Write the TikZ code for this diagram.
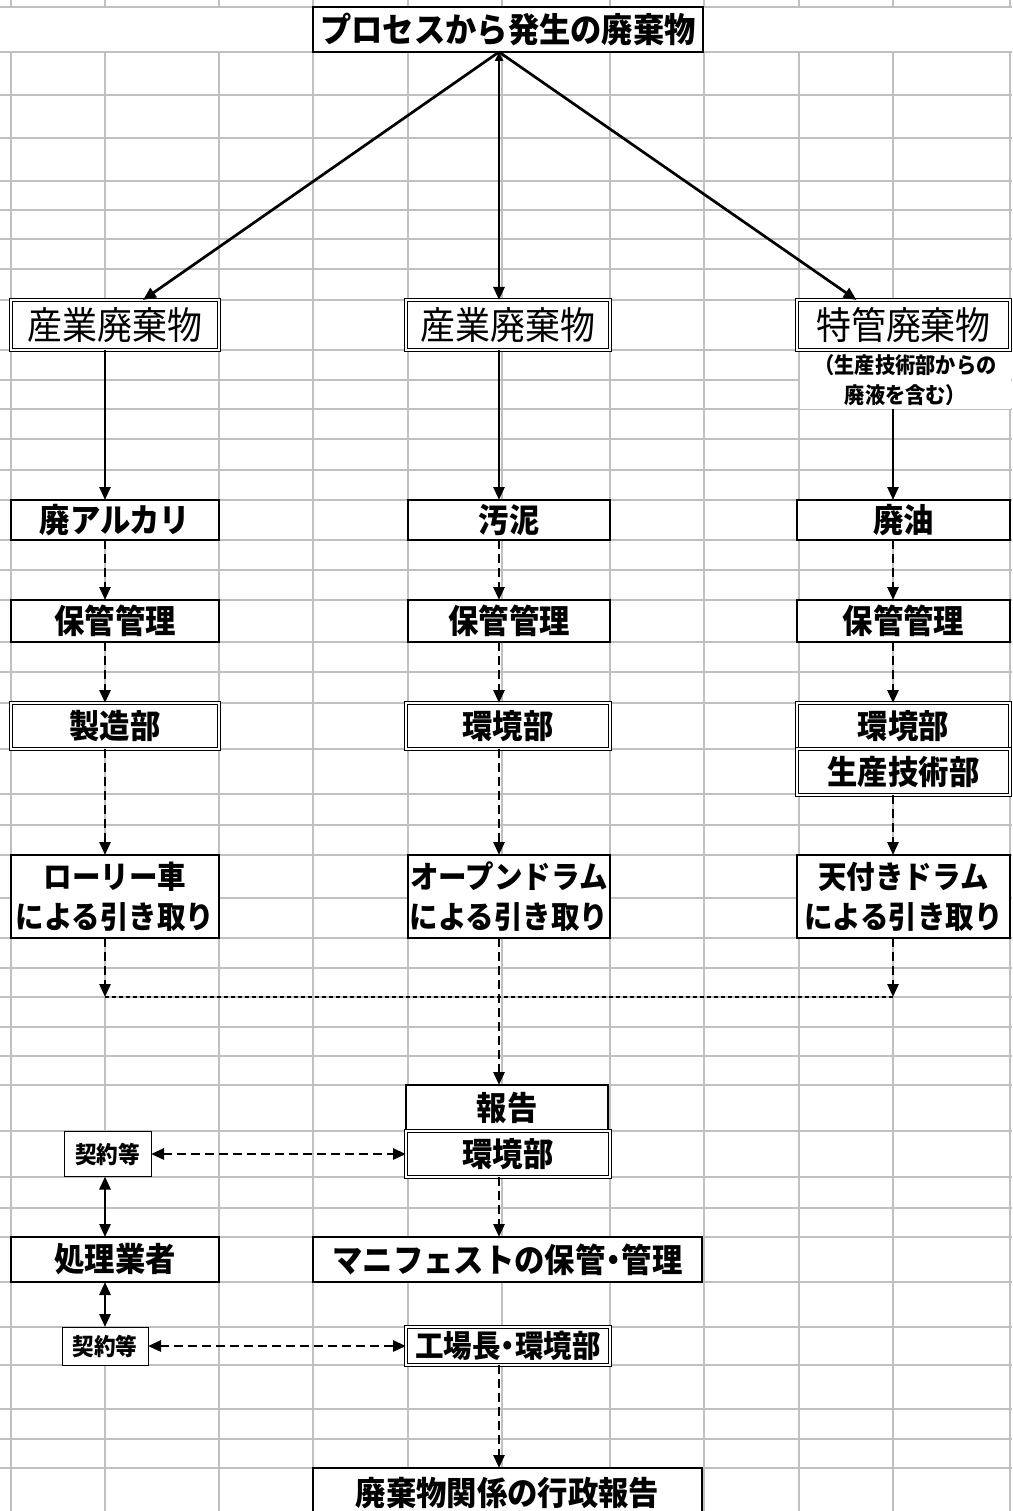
\documentclass[tikz,border=0pt]{standalone}
\usepackage{fontspec}
\setmainfont{Noto Sans CJK JP}[FakeStretch=0.92]
\usetikzlibrary{
arrows.meta,
backgrounds
}
\tikzset{
  every node/.style = {
    inner sep = 0pt,
    outer sep = 0pt
  }
}
\definecolor{gridgray}{RGB}{192,192,192}
\newcommand{\middot}{\kern-7pt・\kern-7pt}

\begin{document}
\begin{tikzpicture}[
        x = 1pt,
        y = -1pt,
        >={Triangle[length=13pt,width=11pt]},
        box/.style={
          draw,
          fill = white,
          line width = 2pt,
          align = center,
          font = \bfseries\fontsize{33}{38}\selectfont,
        },
        bold box/.style={
          box,
          line width = 2.8pt,
        },
        double box/.style={
          box,
          line width = 1.4pt,
          double = white,
          double distance = 1.5pt,
        },
        kind/.style={
          font = \fontsize{38}{42}\selectfont,
        },
        pick/.style={
          font = \bfseries\fontsize{31}{40}\selectfont,
        },
        small/.style={
          font = \bfseries\fontsize{22}{30}\selectfont,
        },
        flow/.style={
          line width = 2.7pt,
          ->,
        },
        dash flow/.style={
          flow,
          dash pattern = on 9pt off 5pt,
        },
        dot line/.style={
          line width = 2.7pt,
          dash pattern = on 4pt off 3pt,
        },
        gridline/.style={
          draw = gridgray,
          line width = 1.4pt,
        },
        ]
        \useasboundingbox (0,0) rectangle (1012,1511);
        \fill [white] (0,0) rectangle (1012,1511);
        \foreach \gy in {7,52,95,138,181,210,239,269,300,350,380,409,439,470,500,540,570,600,642,672,703,749,794,825,855,898,938,968,997,1027,1056,1085,1131,1177,1208,1237,1282,1327,1365,1409,1439,1468}
          \draw [gridline] (0,\gy) -- (1012,\gy);
        \foreach \gx in {11,105,219,313,408,502,610,704,799,893,1010}
          \draw [gridline] (\gx,0) -- (\gx,1511);
        \fill [white] (0,8) rectangle (1012,51);

        \coordinate (axisL) at (105,0);
        \coordinate (axisM) at (499,0);
        \coordinate (axisR) at (893,0);

        \node [bold box, font=\bfseries\fontsize{34}{38}\selectfont, minimum width=390, minimum height=45] (source) at (508,29.5) {プロセスから発生の廃棄物};

        \node [double box, kind, minimum width=208, minimum height=50] (wasteL) at (115,325) {産業廃棄物};
        \node [double box, kind, minimum width=204, minimum height=50] (wasteM) at (508,325) {産業廃棄物};
        \node [double box, kind, minimum width=213, minimum height=50] (wasteR) at (903.5,325) {特管廃棄物};
        \node [small, fill=white, align=center, minimum width=211, minimum height=57] (noteR) at (905.5,380) {（生産技術部からの\\廃液を含む）};

        \node [box, minimum width=208, minimum height=40] (alkali) at (115,520) {廃アルカリ};
        \node [box, minimum width=202, minimum height=40] (sludge) at (509,520) {汚泥};
        \node [box, minimum width=213, minimum height=40] (oil) at (903.5,520) {廃油};

        \node [box, minimum width=208, minimum height=42] (storeL) at (115,621) {保管管理};
        \node [box, minimum width=202, minimum height=42] (storeM) at (509,621) {保管管理};
        \node [box, minimum width=213, minimum height=42] (storeR) at (903.5,621) {保管管理};

        \node [double box, minimum width=208, minimum height=46] (deptL) at (115,726) {製造部};
        \node [double box, minimum width=204, minimum height=46] (deptM) at (508,726) {環境部};
        \node [double box, minimum width=213, minimum height=46] (deptRa) at (903.5,726) {環境部};
        \node [double box, minimum width=213, minimum height=46] (deptRb) at (903.5,772) {生産技術部};

        \node [box, pick, minimum width=208, minimum height=83] (pickL) at (115,896.5) {ローリー車\\による引き取り};
        \node [box, pick, minimum width=202, minimum height=83] (pickM) at (509,896.5) {オープンドラム\\による引き取り};
        \node [box, pick, minimum width=213, minimum height=83] (pickR) at (903.5,896.5) {天付きドラム\\による引き取り};

        \coordinate (joinL) at (105,997);
        \coordinate (joinR) at (893,997);

        \node [bold box, minimum width=202, minimum height=46] (report) at (507,1108) {報告};
        \node [double box, minimum width=204, minimum height=46] (envM) at (508,1154) {環境部};
        \node [box, small, font=\bfseries\fontsize{23.5}{30}\selectfont, line width=1pt, minimum width=87, minimum height=45] (contractA) at (107.5,1154) {契約等};

        \node [bold box, minimum width=208, minimum height=45] (contractor) at (115,1259.5) {処理業者};
        \node [bold box, minimum width=389, minimum height=45] (manifest) at (507.5,1259.5) {マニフェストの保管\middot 管理};

        \node [box, small, font=\bfseries\fontsize{23.5}{30}\selectfont, line width=1pt, minimum width=86, minimum height=38] (contractB) at (105,1346) {契約等};
        \node [double box, font=\bfseries\fontsize{31}{36}\selectfont, minimum width=204, minimum height=38] (chief) at (508,1346) {工場長\middot 環境部};

        \node [bold box, minimum width=389, minimum height=50] (govt) at (507.5,1493) {廃棄物関係の行政報告};

        \draw [flow] (source.south -| axisM) -- ([xshift=28pt]wasteL.north);
        \draw [flow, {Triangle[length=9pt,width=8pt]}->] (source.south -| axisM) -- (wasteM.north -| axisM);
        \draw [flow] (source.south -| axisM) -- ([xshift=-47pt]wasteR.north);

        \draw [flow] (wasteL.south -| axisL) -- (alkali.north -| axisL);
        \draw [flow] (wasteM.south -| axisM) -- (sludge.north -| axisM);
        \draw [flow] (noteR.south -| axisR) -- (oil.north -| axisR);

        \draw [dash flow] (alkali.south -| axisL) -- (storeL.north -| axisL);
        \draw [dash flow] (sludge.south -| axisM) -- (storeM.north -| axisM);
        \draw [dash flow] (oil.south -| axisR) -- (storeR.north -| axisR);

        \draw [dash flow] (storeL.south -| axisL) -- (deptL.north -| axisL);
        \draw [dash flow] (storeM.south -| axisM) -- (deptM.north -| axisM);
        \draw [dash flow] (storeR.south -| axisR) -- (deptRa.north -| axisR);

        \draw [dash flow] (deptL.south -| axisL) -- (pickL.north -| axisL);
        \draw [dash flow] (deptM.south -| axisM) -- (pickM.north -| axisM);
        \draw [dash flow] (deptRb.south -| axisR) -- (pickR.north -| axisR);

        \draw [dash flow] (pickL.south -| axisL) -- (joinL);
        \draw [dash flow] (pickR.south -| axisR) -- (joinR);
        \draw [dot line] (joinL) -- (joinR);
        \draw [dash flow] (pickM.south -| axisM) -- (report.north -| axisM);

        \draw [dash flow, <->] (contractA.east) -- (envM.west);
        \draw [flow, <->] (contractA.south -| axisL) -- (contractor.north -| axisL);
        \draw [dash flow] (envM.south -| axisM) -- (manifest.north -| axisM);
        \draw [flow, <->] (contractor.south -| axisL) -- (contractB.north -| axisL);
        \draw [dash flow, <->] (contractB.east) -- (chief.west);
        \draw [dash flow] (chief.south -| axisM) -- (govt.north -| axisM);
\end{tikzpicture}
\end{document}
